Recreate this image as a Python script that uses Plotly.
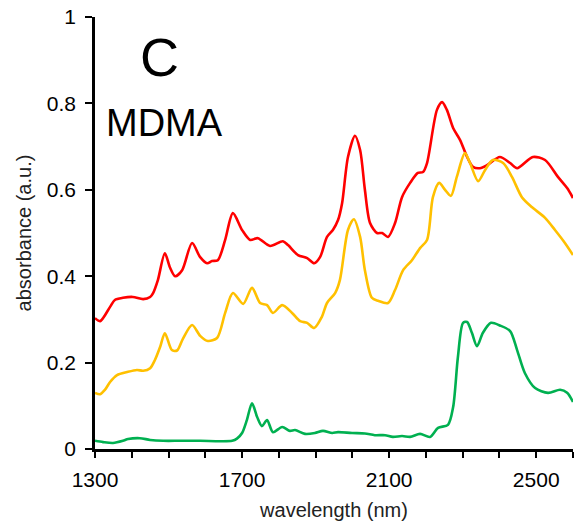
import plotly.graph_objects as go


# wavelength (nm) / absorbance
red_wl = [1300, 1314, 1341, 1354, 1376, 1403, 1431, 1450, 1458, 1471, 1490, 1504, 1518,
          1537, 1564, 1586, 1605, 1618, 1634, 1654, 1675, 1700, 1722, 1743, 1776, 1811,
          1825, 1852, 1877, 1896, 1912, 1931, 1947, 1961, 1972, 1988, 2007, 2021, 2034,
          2048, 2067, 2081, 2097, 2116, 2135, 2157, 2178, 2192, 2203, 2230, 2244, 2257,
          2274, 2293, 2312, 2328, 2347, 2366, 2401, 2429, 2448, 2491, 2524, 2559, 2584, 2600]
red_abs = [0.303, 0.296, 0.329, 0.345, 0.350, 0.352, 0.347, 0.352, 0.361, 0.391, 0.453, 0.420, 0.400,
           0.414, 0.477, 0.444, 0.430, 0.435, 0.437, 0.484, 0.546, 0.507, 0.484, 0.488, 0.470, 0.481,
           0.472, 0.449, 0.442, 0.430, 0.444, 0.491, 0.507, 0.530, 0.569, 0.676, 0.725, 0.692, 0.600,
           0.523, 0.500, 0.500, 0.491, 0.523, 0.583, 0.616, 0.639, 0.641, 0.662, 0.785, 0.803, 0.785,
           0.743, 0.715, 0.676, 0.653, 0.650, 0.657, 0.676, 0.662, 0.650, 0.676, 0.669, 0.630, 0.604, 0.581]

yellow_wl = [1300, 1314, 1327, 1341, 1360, 1387, 1414, 1431, 1450, 1463, 1477, 1490, 1509,
             1523, 1539, 1564, 1586, 1607, 1632, 1654, 1675, 1703, 1727, 1749, 1768, 1784,
             1809, 1836, 1858, 1877, 1896, 1917, 1931, 1953, 1966, 1988, 2004, 2021, 2034,
             2053, 2070, 2097, 2116, 2138, 2162, 2184, 2203, 2219, 2236, 2252, 2268, 2284,
             2306, 2320, 2342, 2361, 2382, 2410, 2434, 2461, 2488, 2524, 2551, 2578, 2600]
yellow_abs = [0.130, 0.127, 0.137, 0.155, 0.171, 0.178, 0.183, 0.181, 0.187, 0.206, 0.236, 0.268, 0.229,
              0.228, 0.255, 0.287, 0.262, 0.250, 0.257, 0.315, 0.361, 0.336, 0.373, 0.338, 0.333, 0.315,
              0.333, 0.315, 0.296, 0.292, 0.280, 0.306, 0.338, 0.361, 0.391, 0.507, 0.532, 0.491, 0.414,
              0.350, 0.343, 0.338, 0.368, 0.414, 0.437, 0.465, 0.484, 0.583, 0.616, 0.600, 0.586, 0.630,
              0.685, 0.662, 0.620, 0.646, 0.669, 0.662, 0.630, 0.583, 0.560, 0.535, 0.507, 0.477, 0.449]

green_wl = [1300, 1322, 1349, 1376, 1390, 1422, 1450, 1485, 1531, 1586, 1640, 1673, 1686,
            1700, 1713, 1727, 1741, 1754, 1768, 1784, 1809, 1830, 1844, 1871, 1898, 1920,
            1945, 1961, 1999, 2034, 2061, 2089, 2110, 2135, 2157, 2184, 2211, 2233, 2260,
            2274, 2287, 2301, 2312, 2325, 2339, 2355, 2377, 2401, 2429, 2448, 2469, 2497,
            2532, 2565, 2584, 2600]
green_abs = [0.019, 0.016, 0.014, 0.019, 0.023, 0.025, 0.021, 0.019, 0.019, 0.019, 0.018, 0.019, 0.024,
             0.037, 0.067, 0.106, 0.074, 0.053, 0.067, 0.039, 0.051, 0.042, 0.044, 0.035, 0.037, 0.042,
             0.037, 0.039, 0.037, 0.036, 0.032, 0.032, 0.028, 0.030, 0.028, 0.035, 0.028, 0.049, 0.056,
             0.097, 0.213, 0.292, 0.294, 0.269, 0.238, 0.269, 0.292, 0.286, 0.273, 0.229, 0.176, 0.141,
             0.130, 0.137, 0.130, 0.109]

y_ticks = [0, 0.2, 0.4, 0.6, 0.8, 1]
y_labels = ["0", "0.2", "0.4", "0.6", "0.8", "1"]
x_ticks = [1300, 1700, 2100, 2500]


FONT = "Liberation Sans, Arial, sans-serif"

fig = go.Figure()

for wl, ab, color in [(red_wl, red_abs, "#FF0000"),
                      (yellow_wl, yellow_abs, "#FFC000"),
                      (green_wl, green_abs, "#00B050")]:
    fig.add_trace(
        go.Scatter(
            x=wl,
            y=ab,
            mode="lines",
            line=dict(color=color, width=2.6, shape="spline", smoothing=0.8),
            showlegend=False
        )
    )


fig.update_xaxes(
    range=[1300, 2600],
    tickvals=x_ticks,
    ticks="outside",
    ticklen=6,
    tickwidth=2,
    tickcolor="black",
    ticklabelstandoff=4,
    minor=dict(dtick=100, tick0=1300, ticks="outside", ticklen=6, tickwidth=2, tickcolor="black"),
    showline=True,
    linecolor="black",
    linewidth=2.5,
    showgrid=False,
    zeroline=False,
    automargin=False,
    tickfont=dict(size=21, color="black", family=FONT),
    title=dict(text="wavelength (nm)", font=dict(size=20, color="#222", family=FONT), standoff=14)
)

fig.update_yaxes(
    range=[0, 1],
    tickvals=y_ticks,
    ticktext=y_labels,
    ticks="outside",
    ticklen=7,
    tickwidth=2,
    tickcolor="black",
    ticklabelstandoff=5,
    showline=True,
    linecolor="black",
    linewidth=2.5,
    showgrid=False,
    zeroline=False,
    automargin=False,
    tickfont=dict(size=21, color="black", family=FONT),
    title=dict(text="absorbance (a.u.)", font=dict(size=20, color="#222", family=FONT), standoff=10)
)

fig.add_annotation(
    x=0.134, y=0.907, xref="paper", yref="paper",
    xanchor="center", yanchor="middle",
    text="C", showarrow=False,
    font=dict(size=54, color="black", family=FONT)
)

fig.add_annotation(
    x=0.146, y=0.755, xref="paper", yref="paper",
    xanchor="center", yanchor="middle",
    text="MDMA", showarrow=False,
    font=dict(size=38, color="black", family=FONT)
)

fig.update_layout(
    width=575,
    height=525,
    margin=dict(l=95, r=2, t=17, b=76),
    plot_bgcolor="white",
    paper_bgcolor="white"
)

# page body has an 8px default margin; drop it so the figure sits at 0,0
fig.write_html("out.html", config={"displayModeBar": False},
               post_script="document.body.style.margin='0';")
